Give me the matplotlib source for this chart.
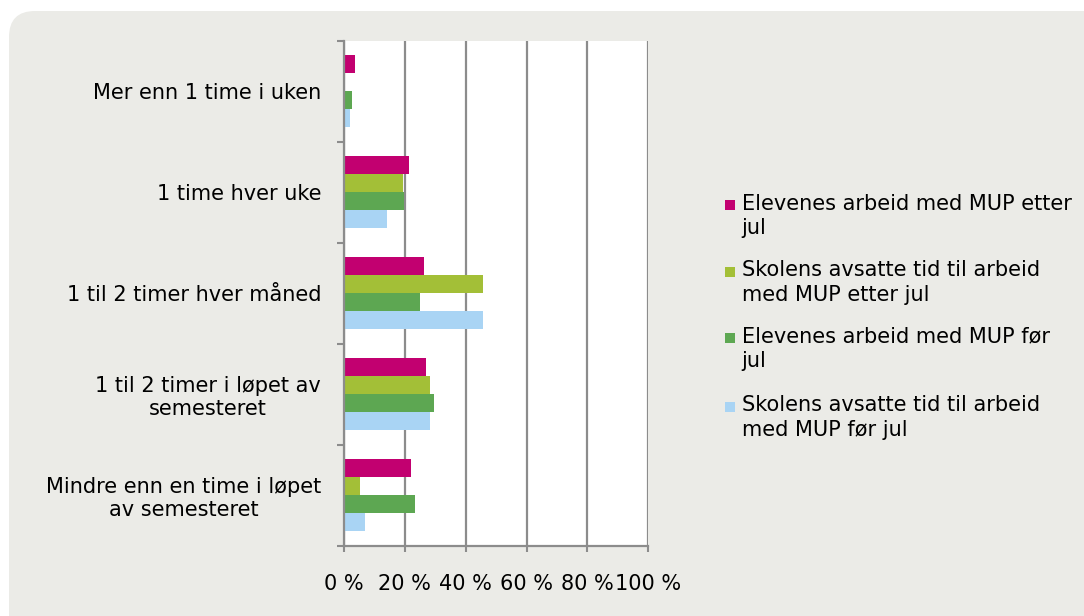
import matplotlib
matplotlib.use("Agg")
import matplotlib.pyplot as plt
from matplotlib.patches import FancyBboxPatch, Rectangle
from matplotlib.transforms import IdentityTransform
import numpy as np

categories = [
    "Mer enn 1 time i uken",
    "1 time hver uke",
    "1 til 2 timer hver måned",
    "1 til 2 timer i løpet av\nsemesteret",
    "Mindre enn en time i løpet\nav semesteret",
]
series_names = [
    "Elevenes arbeid med MUP etter\njul",
    "Skolens avsatte tid til arbeid\nmed MUP etter jul",
    "Elevenes arbeid med MUP før\njul",
    "Skolens avsatte tid til arbeid\nmed MUP før jul",
]
elevenes_etter = [3.6, 21.5, 26.4, 27.0, 21.9]
skolens_etter = [0.0, 19.5, 45.6, 28.1, 5.4]
elevenes_for = [2.7, 19.8, 25.1, 29.5, 23.2]
skolens_for = [1.9, 14.0, 45.6, 28.1, 7.0]
series_values = [elevenes_etter, skolens_etter, elevenes_for, skolens_for]
colors = ["#C20070", "#A3BF37", "#5DA752", "#A9D4F4"]
xticks = [0, 20, 40, 60, 80, 100]
xticklabels = ["0 %", "20 %", "40 %", "60 %", "80 %", "100 %"]

FS = 15
W, H = 1084, 616
fig = plt.figure(figsize=(W / 100, H / 100), dpi=100)
fig.patch.set_facecolor("white")
bg = FancyBboxPatch((9, -40), W + 40, H - 11 + 40,
                    boxstyle="round,pad=0,rounding_size=26",
                    transform=IdentityTransform(), facecolor="#EBEBE7",
                    edgecolor="none", zorder=-10)
fig.patches.append(bg)

ax = fig.add_axes([344 / W, 1 - 546 / H, (648.3 - 344) / W, (546 - 40.7) / H])
ax.set_facecolor("white")

y = np.arange(len(categories))
bh = 0.178
offsets = [-1.5 * bh, -0.5 * bh, 0.5 * bh, 1.5 * bh]
for vals, off, c in zip(series_values, offsets, colors):
    ax.barh(y + off, vals, height=bh, color=c, zorder=3)

ax.set_xlim(0, 100)
ax.set_ylim(4.5, -0.5)
ax.set_xticks(xticks)
ax.set_xticklabels(xticklabels, fontsize=FS)
ax.set_yticks(y)
ax.set_yticklabels(categories, fontsize=FS, multialignment="center", linespacing=1.15)
ax.set_yticks(np.arange(-0.5, 5.0, 1.0), minor=True)
ax.tick_params(axis="y", which="major", length=0, pad=16.5)
ax.tick_params(axis="y", which="minor", length=5, width=1.5, color="#8C8C8C")
ax.tick_params(axis="x", length=4.5, width=1.5, color="#8C8C8C", pad=16)
ax.grid(axis="x", color="#8C8C8C", linewidth=1.6, zorder=1)
for s in ["top", "right"]:
    ax.spines[s].set_visible(False)
for s in ["left", "bottom"]:
    ax.spines[s].set_color("#8C8C8C")
    ax.spines[s].set_linewidth(1.6)
    ax.spines[s].set_zorder(4)

# legend drawn manually
ys = [205, 272, 338, 406.7]
for name, c, yy in zip(series_names, colors, ys):
    fig.patches.append(Rectangle((725 / W, 1 - (yy + 5) / H), 10 / W, 10 / H,
                                 transform=fig.transFigure, facecolor=c, edgecolor="none"))
    fig.text(741.5 / W, 1 - (yy - 11.5) / H, name, fontsize=FS, va="top", ha="left",
             linespacing=1.3)

fig.savefig("out.png", dpi=100, facecolor=fig.get_facecolor())
